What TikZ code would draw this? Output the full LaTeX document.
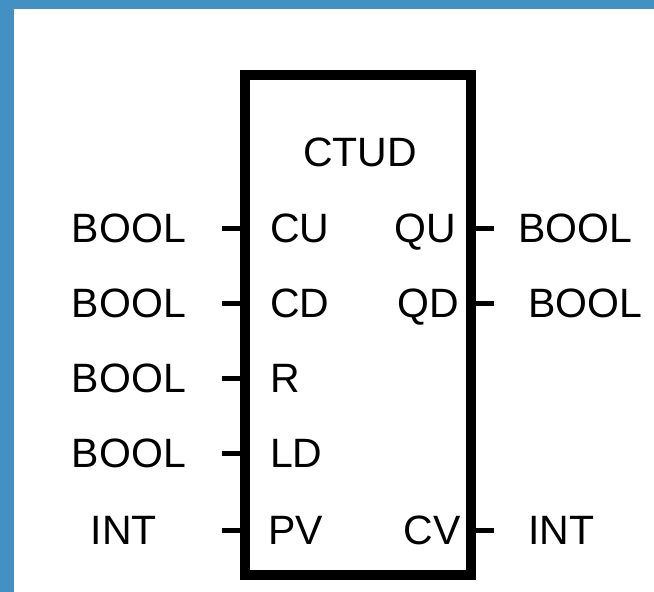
\documentclass[tikz,border=0pt]{standalone}
\usepackage{fontspec}
\setmainfont{Liberation Sans}
\usetikzlibrary{positioning}
\definecolor{Frame}{HTML}{4391C3}

\begin{document}
\begin{tikzpicture}[x=1pt,y=-1pt,
  lbl/.style={inner sep=0pt,text depth=0pt,font=\fontsize{41}{41}\selectfont},
  stub/.style={line width=5pt}]
  \useasboundingbox (0,0) rectangle (654,592);
  \fill[Frame] (0,0) rectangle (654,9);
  \fill[Frame] (0,0) rectangle (14,592);
  \node[draw,line width=10pt,minimum width=226pt,minimum height=500pt,inner sep=0pt] (fb) at (357.5,325) {};
  \node[lbl] (title) at (360,152) {CTUD};
  % inputs
  \foreach \nm/\txt/\typ/\y in {cu/CU/BOOL/228,cd/CD/BOOL/303,r/R/BOOL/378,ld/LD/BOOL/453}{
    \node[lbl,anchor=west] (\nm) at (270,\y) {\txt};
    \node[lbl,anchor=east] (\nm t) at (186,\y) {\typ};
    \coordinate (\nm s) at (222,\y);
    \draw[stub] (\nm s) -- (\nm s -| fb.west);
  }
  \node[lbl,anchor=west] (pv) at (268,530) {PV};
  \node[lbl] (pvt) at (124,530) {INT};
  \coordinate (pvs) at (222,530);
  \draw[stub] (pvs) -- (pvs -| fb.west);
  % outputs
  \node[lbl,anchor=east] (qu) at (456,228) {QU};
  \node[lbl,anchor=east] (qd) at (459,303) {QD};
  \node[lbl,anchor=east] (cv) at (461,530) {CV};
  \node[lbl,anchor=west] (qut) at (518,228) {BOOL};
  \node[lbl,anchor=west] (qdt) at (528,303) {BOOL};
  \node[lbl,anchor=west] (cvt) at (528,530) {INT};
  \foreach \nm in {qu,qd,cv}{
    \coordinate (\nm s) at (494,0 |- \nm);
    \draw[stub] (fb.east |- \nm) -- (\nm s);
  }
\end{tikzpicture}
\end{document}
